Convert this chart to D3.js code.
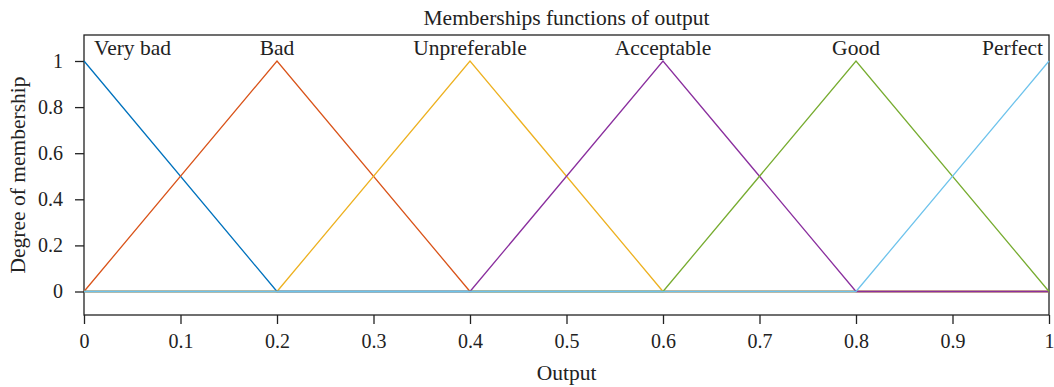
<!DOCTYPE html>
<html>
<head>
<meta charset="utf-8">
<script src="https://cdn.jsdelivr.net/npm/d3@7"></script>
<style>
  body { margin: 0; background: #fff; }
  svg text { font-family: "Liberation Serif", "DejaVu Serif", serif; fill: #222; }
</style>
</head>
<body>
<div id="chart"></div>
<script>
const xPoints = [0, 0.2, 0.4, 0.6, 0.8, 1]
const mfNames = ["Very bad", "Bad", "Unpreferable", "Acceptable", "Good", "Perfect"]
const mfPeaks = [0, 0.2, 0.4, 0.6, 0.8, 1]
const mfValues = [
    [1, 0, 0, 0, 0, 0],
    [0, 1, 0, 0, 0, 0],
    [0, 0, 1, 0, 0, 0],
    [0, 0, 0, 1, 0, 0],
    [0, 0, 0, 0, 1, 0],
    [0, 0, 0, 0, 0, 1]
]
const mfColors = ["#0072BD", "#D95319", "#EDB120", "#8A2F9E", "#77AC30", "#6EC3EC"]
const xTicks = [0, 0.1, 0.2, 0.3, 0.4, 0.5, 0.6, 0.7, 0.8, 0.9, 1]
const yTicks = [0, 0.2, 0.4, 0.6, 0.8, 1]

const width = 1054, height = 387
const plotLeft = 84, plotRight = 1049, plotTop = 35, plotBottom = 315
const labelSize = 21.5, tickFont = 20

const svg = d3.select("#chart").append("svg")
    .attr("width", width).attr("height", height)

const x = d3.scaleLinear().domain([0, 1]).range([plotLeft, plotRight])
const y = d3.scaleLinear().domain([0, 1]).range([291.5, 61])

// frame
svg.append("rect")
    .attr("x", plotLeft).attr("y", plotTop)
    .attr("width", plotRight - plotLeft).attr("height", plotBottom - plotTop)
    .attr("fill", "none").attr("stroke", "#222").attr("stroke-width", 1.3)

const fmt = d => String(+d.toFixed(1))

const xAxis = svg.append("g")
    .attr("transform", `translate(0,${plotBottom})`)
    .call(d3.axisBottom(x).tickValues(xTicks).tickSize(9).tickPadding(10).tickFormat(fmt))
xAxis.select(".domain").remove()
xAxis.selectAll("line").attr("stroke", "#222").attr("stroke-width", 1.3)
xAxis.selectAll("text").attr("font-size", tickFont).attr("fill", "#222")

const yAxis = svg.append("g")
    .attr("transform", `translate(${plotLeft},0)`)
    .call(d3.axisLeft(y).tickValues(yTicks).tickSize(9).tickPadding(12).tickFormat(fmt))
yAxis.select(".domain").remove()
yAxis.selectAll("line").attr("stroke", "#222").attr("stroke-width", 1.3)
yAxis.selectAll("text").attr("font-size", tickFont).attr("fill", "#222")
xAxis.attr("font-size", null).attr("font-family", null)
yAxis.attr("font-size", null).attr("font-family", null)

const line = d3.line().x((d, i) => x(xPoints[i])).y(d => y(d))

mfValues.forEach((vals, k) => {
    svg.append("path")
        .datum(vals)
        .attr("d", line)
        .attr("fill", "none")
        .attr("stroke", mfColors[k])
        .attr("stroke-width", 1.3)
})

// mf labels
svg.selectAll(".mflabel")
    .data(mfNames)
    .join("text")
    .attr("class", "mflabel")
    .attr("x", (d, i) => i === 0 ? x(mfPeaks[i]) + 10 : i === mfNames.length - 1 ? x(mfPeaks[i]) - 6 : x(mfPeaks[i]))
    .attr("y", 55)
    .attr("text-anchor", (d, i) => i === 0 ? "start" : i === mfNames.length - 1 ? "end" : "middle")
    .attr("font-size", labelSize)
    .text(d => d)

svg.append("text")
    .attr("x", (plotLeft + plotRight) / 2).attr("y", 25)
    .attr("text-anchor", "middle").attr("font-size", labelSize)
    .text("Memberships functions of output")

svg.append("text")
    .attr("x", (plotLeft + plotRight) / 2).attr("y", 380)
    .attr("text-anchor", "middle").attr("font-size", labelSize)
    .text("Output")

svg.append("text")
    .attr("transform", `translate(25,${(plotTop + plotBottom) / 2}) rotate(-90)`)
    .attr("text-anchor", "middle").attr("font-size", labelSize)
    .text("Degree of membership")
</script>
</body>
</html>
